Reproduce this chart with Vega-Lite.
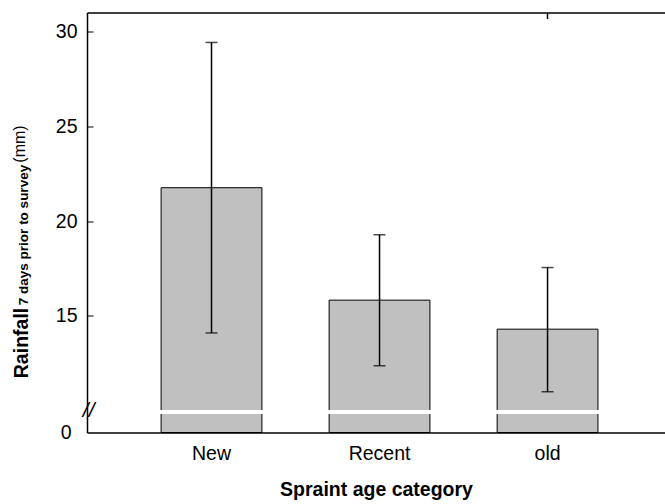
{
  "$schema": "https://vega.github.io/schema/vega-lite/v6.json",
  "autosize": "none",
  "width": 578,
  "height": 420,
  "padding": {"left": 87, "top": 12.5, "right": 0, "bottom": 71.5},
  "background": "white",
  "config": {
    "view": {"stroke": null},
    "font": "Liberation Sans",
    "axis": {"grid": false, "labelFont": "Liberation Sans", "titleFont": "Liberation Sans", "labelColor": "black", "titleColor": "black", "domainColor": "black", "tickColor": "black"}
  },
  "data": {"values": [
    {"cat": "New", "mean": 21.76, "lo": 14.1, "hi": 29.42},
    {"cat": "Recent", "mean": 15.83, "lo": 12.37, "hi": 19.28},
    {"cat": "old", "mean": 14.3, "lo": 11.0, "hi": 17.55}
  ]},
  "resolve": {"axis": {"x": "independent", "y": "independent"}},
  "layer": [
    {
      "mark": {"type": "bar", "color": "#c0c0c0", "stroke": "black", "strokeWidth": 1},
      "encoding": {
        "x": {"field": "cat", "type": "nominal", "sort": ["New", "Recent", "old"],
          "scale": {"paddingInner": 0.4, "paddingOuter": 0.42, "align": 0.525},
          "axis": {"orient": "bottom", "title": "Spraint age category", "titleFontWeight": "bold", "titleFontSize": 19.5, "titlePadding": 17,
            "labelFontSize": 19.5, "labelAngle": 0, "ticks": false, "labelPadding": 12, "domainWidth": 1.5}},
        "y": {"field": "mean", "type": "quantitative",
          "scale": {"domain": [8.85, 31], "zero": false, "nice": false},
          "axis": {"orient": "left", "values": [8.85, 10, 15, 20, 25, 30],
            "labelExpr": "datum.value < 9 ? '0' : (datum.value == 10 ? '//' : datum.label)",
            "labelFontSize": {"condition": {"test": "datum.value == 10", "value": 21}, "value": 19.5},
            "labelFontStyle": {"condition": {"test": "datum.value == 10", "value": "italic"}, "value": "normal"},
            "tickSize": {"condition": {"test": "datum.value < 11", "value": 0}, "value": -6},
            "labelPadding": {"condition": {"test": "datum.value == 10", "value": -7}, "value": 16},
            "domainWidth": 1.5,
            "title": "Rainfall", "titleFontWeight": "bold", "titleFontSize": 19.5, "titleAngle": -90,
            "titleAlign": "center", "titleBaseline": "middle", "titleX": -66, "titleY": 330}},
        "y2": {"datum": 8.85}
      }
    },
    {
      "mark": {"type": "tick", "color": "white", "thickness": 4, "size": 104, "opacity": 1},
      "encoding": {
        "x": {"field": "cat", "type": "nominal", "sort": ["New", "Recent", "old"],
          "axis": {"orient": "top", "values": ["old"], "labels": false, "title": null, "tickSize": -6, "domainWidth": 1.5, "tickWidth": 1.5}},
        "y": {"datum": 9.93, "type": "quantitative",
          "axis": {"orient": "left", "labels": false, "ticks": false, "domain": false,
            "title": "7 days prior to survey", "titleFontWeight": "bold", "titleFontSize": 13.5, "titleAngle": -90,
            "titleAlign": "center", "titleBaseline": "middle", "titleX": -64, "titleY": 222}}
      }
    },
    {
      "mark": {"type": "rule", "color": "black", "strokeWidth": 1.5},
      "encoding": {
        "x": {"field": "cat", "type": "nominal", "sort": ["New", "Recent", "old"], "axis": null},
        "y": {"field": "lo", "type": "quantitative",
          "axis": {"orient": "left", "labels": false, "ticks": false, "domain": false,
            "title": "(mm)", "titleFontWeight": "normal", "titleFontSize": 16, "titleAngle": -90,
            "titleAlign": "center", "titleBaseline": "middle", "titleX": -68, "titleY": 131}},
        "y2": {"field": "hi"}
      }
    },
    {
      "mark": {"type": "tick", "color": "black", "thickness": 1.5, "size": 12},
      "encoding": {
        "x": {"field": "cat", "type": "nominal", "sort": ["New", "Recent", "old"], "axis": null},
        "y": {"field": "hi", "type": "quantitative", "axis": null}
      }
    },
    {
      "mark": {"type": "tick", "color": "black", "thickness": 1.5, "size": 12},
      "encoding": {
        "x": {"field": "cat", "type": "nominal", "sort": ["New", "Recent", "old"], "axis": null},
        "y": {"field": "lo", "type": "quantitative", "axis": null}
      }
    }
  ]
}
